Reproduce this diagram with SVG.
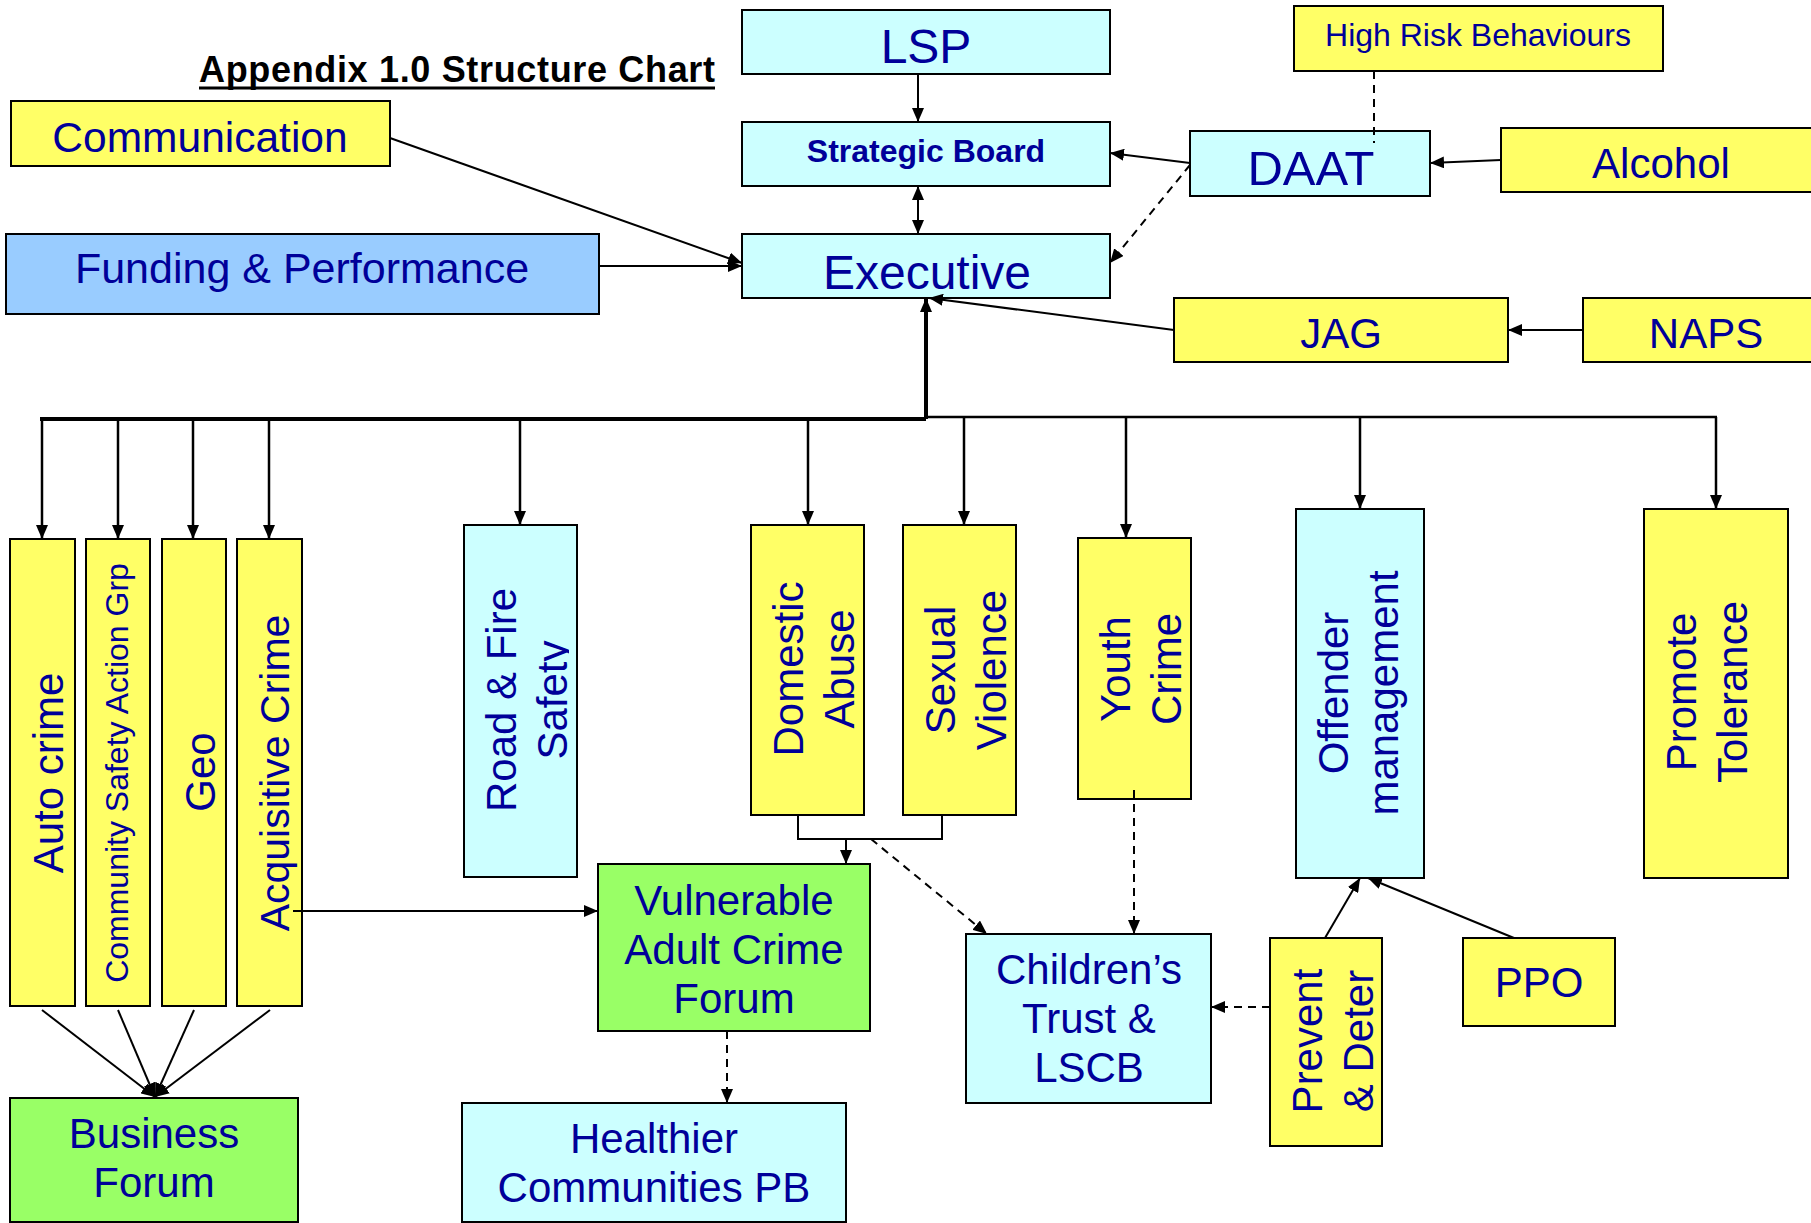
<svg xmlns="http://www.w3.org/2000/svg" width="1811" height="1223" viewBox="0 0 1811 1223">
<style>
.bx{stroke:#000;stroke-width:2}
.y{fill:#FFFF66}.c{fill:#CCFFFF}.b{fill:#99CCFF}.g{fill:#99FF66}
.t{font-family:"Liberation Sans",Arial,sans-serif;fill:#000099;font-size:42px;text-anchor:middle}
.ln{stroke:#000;stroke-width:2;fill:none}
.th{stroke-width:4}
.md{stroke-width:2.5}
.ds{stroke-dasharray:8 6}
.ar{marker-end:url(#ah)}
</style>
<defs>
<marker id="ah" markerUnits="userSpaceOnUse" markerWidth="14" markerHeight="12" refX="14" refY="6" orient="auto">
<path d="M0,0 L14,6 L0,12 z" fill="#000"/>
</marker>
<marker id="ahs" markerUnits="userSpaceOnUse" markerWidth="14" markerHeight="12" refX="14" refY="6" orient="auto-start-reverse">
<path d="M0,0 L14,6 L0,12 z" fill="#000"/>
</marker>
<clipPath id="roadclip"><rect x="464" y="525" width="105" height="352"/></clipPath>
</defs>
<rect width="1811" height="1223" fill="#fff"/>
<g id="title">
<text x="199" y="82" font-family="Liberation Sans, Arial, sans-serif" font-weight="bold" font-size="36" fill="#000" textLength="516">Appendix 1.0 Structure Chart</text>
<line x1="199" y1="88" x2="715" y2="88" stroke="#000" stroke-width="3"/>
</g>
<g id="communication"><rect class="bx y" x="11" y="101" width="379" height="65"/><text class="t" x="200" y="152" style="font-size:42.5px">Communication</text></g>
<g id="funding"><rect class="bx b" x="6" y="234" width="593" height="80"/><text class="t" x="302" y="283" style="font-size:43px">Funding &amp; Performance</text></g>
<g id="lsp"><rect class="bx c" x="742" y="10" width="368" height="64"/><text class="t" x="926" y="63" style="font-size:48px">LSP</text></g>
<g id="strategic-board"><rect class="bx c" x="742" y="122" width="368" height="64"/><text class="t" x="926" y="162" style="font-size:32px;font-weight:bold">Strategic Board</text></g>
<g id="executive"><rect class="bx c" x="742" y="234" width="368" height="64"/><text class="t" x="927" y="289" style="font-size:48px">Executive</text></g>
<g id="high-risk"><rect class="bx y" x="1294" y="6" width="369" height="65"/><text class="t" x="1478" y="46" style="font-size:32px">High Risk Behaviours</text></g>
<g id="daat"><rect class="bx c" x="1190" y="131" width="240" height="65"/><text class="t" x="1311" y="185" style="font-size:49px">DAAT</text></g>
<g id="alcohol"><rect class="bx y" x="1501" y="128" width="330" height="64"/><text class="t" x="1661" y="178">Alcohol</text></g>
<g id="jag"><rect class="bx y" x="1174" y="298" width="334" height="64"/><text class="t" x="1341" y="348">JAG</text></g>
<g id="naps"><rect class="bx y" x="1583" y="298" width="250" height="64"/><text class="t" x="1706" y="348">NAPS</text></g>
<g id="auto-crime"><rect class="bx y" x="10" y="539" width="65" height="467"/><text class="t" transform="translate(63,773) rotate(-90)">Auto crime</text></g>
<g id="csag"><rect class="bx y" x="86" y="539" width="64" height="467"/><text class="t" style="font-size:32px" transform="translate(128,773) rotate(-90)">Community Safety Action Grp</text></g>
<g id="geo"><rect class="bx y" x="162" y="539" width="64" height="467"/><text class="t" transform="translate(215,772) rotate(-90)">Geo</text></g>
<g id="acquisitive"><rect class="bx y" x="237" y="539" width="65" height="467"/><text class="t" style="font-size:41px" transform="translate(289,773) rotate(-90)">Acquisitive Crime</text></g>
<g id="road-fire"><rect class="bx c" x="464" y="525" width="113" height="352"/><g clip-path="url(#roadclip)"><text class="t" transform="translate(516,700) rotate(-90)">Road &amp; Fire</text><text class="t" transform="translate(567,700) rotate(-90)">Safety</text></g></g>
<g id="domestic-abuse"><rect class="bx y" x="751" y="525" width="113" height="290"/><text class="t" transform="translate(803,669) rotate(-90)">Domestic</text><text class="t" transform="translate(854,669) rotate(-90)">Abuse</text></g>
<g id="sexual-violence"><rect class="bx y" x="903" y="525" width="113" height="290"/><text class="t" transform="translate(955,670) rotate(-90)">Sexual</text><text class="t" transform="translate(1006,670) rotate(-90)">Violence</text></g>
<g id="youth-crime"><rect class="bx y" x="1078" y="538" width="113" height="261"/><text class="t" transform="translate(1130,669) rotate(-90)">Youth</text><text class="t" transform="translate(1181,669) rotate(-90)">Crime</text></g>
<g id="offender"><rect class="bx c" x="1296" y="509" width="128" height="369"/><text class="t" transform="translate(1348,693) rotate(-90)">Offender</text><text class="t" transform="translate(1398,693) rotate(-90)">management</text></g>
<g id="promote"><rect class="bx y" x="1644" y="509" width="144" height="369"/><text class="t" transform="translate(1696,692) rotate(-90)">Promote</text><text class="t" transform="translate(1747,692) rotate(-90)">Tolerance</text></g>
<g id="vacf"><rect class="bx g" x="598" y="864" width="272" height="167"/><text class="t" x="734" y="915">Vulnerable</text><text class="t" x="734" y="964">Adult Crime</text><text class="t" x="734" y="1013">Forum</text></g>
<g id="childrens-trust"><rect class="bx c" x="966" y="934" width="245" height="169"/><text class="t" x="1089" y="984">Children’s</text><text class="t" x="1089" y="1033">Trust &amp;</text><text class="t" x="1089" y="1082">LSCB</text></g>
<g id="prevent-deter"><rect class="bx y" x="1270" y="938" width="112" height="208"/><text class="t" transform="translate(1322,1041) rotate(-90)">Prevent</text><text class="t" transform="translate(1373,1041) rotate(-90)">&amp; Deter</text></g>
<g id="ppo"><rect class="bx y" x="1463" y="938" width="152" height="88"/><text class="t" x="1539" y="997">PPO</text></g>
<g id="business-forum"><rect class="bx g" x="10" y="1098" width="288" height="124"/><text class="t" x="154" y="1148">Business</text><text class="t" x="154" y="1197">Forum</text></g>
<g id="healthier"><rect class="bx c" x="462" y="1103" width="384" height="119"/><text class="t" x="654" y="1153">Healthier</text><text class="t" x="654" y="1202">Communities PB</text></g>
<g id="connectors">
<line class="ln ar" x1="918" y1="74" x2="918" y2="122"/>
<line class="ln" x1="918" y1="186" x2="918" y2="234" marker-start="url(#ahs)" marker-end="url(#ahs)"/>
<line class="ln ar" x1="390" y1="138" x2="742" y2="263"/>
<line class="ln ar" x1="599" y1="266" x2="742" y2="266"/>
<line class="ln ar" x1="1190" y1="163" x2="1110" y2="153"/>
<line class="ln ar" x1="1501" y1="160" x2="1430" y2="163"/>
<line class="ln ds" x1="1374" y1="71" x2="1374" y2="143"/>
<line class="ln ds ar" x1="1190" y1="165" x2="1110" y2="263"/>
<line class="ln ar" x1="1583" y1="330" x2="1508" y2="330"/>
<line class="ln ar" x1="1174" y1="330" x2="929" y2="298"/>
<line class="ln th ar" x1="926" y1="419" x2="926" y2="298"/>
<line class="ln th" x1="40" y1="419" x2="926" y2="419"/>
<line class="ln md" x1="926" y1="417" x2="1717" y2="417"/>
<line class="ln md ar" x1="42" y1="419" x2="42" y2="539"/>
<line class="ln md ar" x1="118" y1="419" x2="118" y2="539"/>
<line class="ln md ar" x1="193" y1="419" x2="193" y2="539"/>
<line class="ln md ar" x1="269" y1="419" x2="269" y2="539"/>
<line class="ln md ar" x1="520" y1="419" x2="520" y2="525"/>
<line class="ln md ar" x1="808" y1="419" x2="808" y2="525"/>
<line class="ln md ar" x1="964" y1="417" x2="964" y2="525"/>
<line class="ln md ar" x1="1126" y1="417" x2="1126" y2="538"/>
<line class="ln md ar" x1="1360" y1="417" x2="1360" y2="509"/>
<line class="ln md ar" x1="1716" y1="417" x2="1716" y2="509"/>
<line class="ln ar" x1="293" y1="911" x2="598" y2="911"/>
<path class="ln" d="M798,815 V839 H942 V815"/>
<line class="ln ar" x1="846" y1="839" x2="846" y2="864"/>
<line class="ln ds ar" x1="871" y1="839" x2="987" y2="934"/>
<line class="ln ds ar" x1="1134" y1="790" x2="1134" y2="934"/>
<line class="ln ds ar" x1="1270" y1="1007" x2="1211" y2="1007"/>
<line class="ln ar" x1="1325" y1="938" x2="1360" y2="878"/>
<line class="ln ar" x1="1514" y1="938" x2="1368" y2="878"/>
<line class="ln ds ar" x1="727" y1="1031" x2="727" y2="1103"/>
<line class="ln ar" x1="42" y1="1010" x2="155" y2="1097"/>
<line class="ln ar" x1="118" y1="1010" x2="155" y2="1097"/>
<line class="ln ar" x1="194" y1="1010" x2="155" y2="1097"/>
<line class="ln ar" x1="270" y1="1010" x2="155" y2="1097"/>
</g>
</svg>
